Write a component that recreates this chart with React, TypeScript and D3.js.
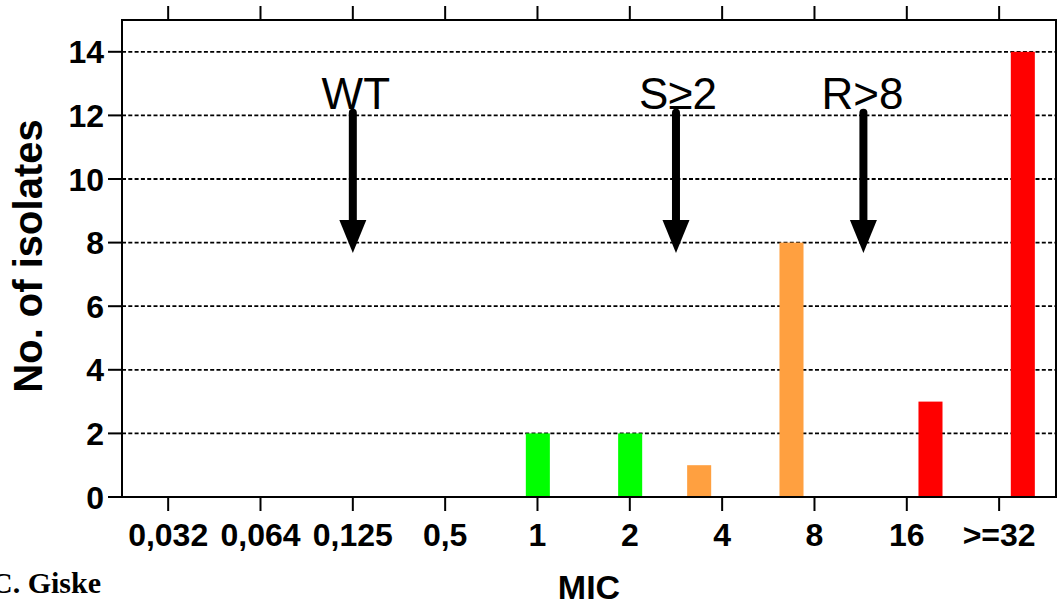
import React from "react";
import * as d3 from "d3";

const categories = ["0,032", "0,064", "0,125", "0,5", "1", "2", "4", "8", "16", ">=32"];
const seriesKeys = ["I", "S", "R"];
const seriesColors = ["#FFA040", "#00FF00", "#FF0000"];
const intermediateValues = [0, 0, 0, 0, 0, 0, 1, 8, 0, 0];
const susceptibleValues = [0, 0, 0, 0, 2, 2, 0, 0, 0, 0];
const resistantValues = [0, 0, 0, 0, 0, 0, 0, 0, 3, 14];
const yTicks = [0, 2, 4, 6, 8, 10, 12, 14];
const annotationLabels = ["WT", "S\u22652", "R>8"];
const annotationCategories = ["0,125", "2", "8"];
const annotationOffsets = [0, 0.5, 0.53];
const arrowTop = 12.08;
const arrowTip = 7.67;

const W = 1060;
const H = 606;
const left = 122;
const top = 20;
const right = 1056;
const bottom = 497;

export default function App() {
  const x = d3.scaleBand<string>().domain(categories).range([left, left + 92.33 * categories.length]).padding(0);
  const xc = (c: string) => (x(c) as number) + x.bandwidth() / 2;
  const inner = d3.scaleBand<string>().domain(seriesKeys).range([-35, 35]).padding(0);
  const y = d3.scaleLinear().domain([0, 15]).range([bottom, top]);
  const seriesValues = [intermediateValues, susceptibleValues, resistantValues];
  const font = "'Liberation Sans', Arial, sans-serif";

  const bars: JSX.Element[] = [];
  seriesValues.forEach((vals, si) => {
    vals.forEach((v, ci) => {
      if (v <= 0) return;
      const cx = xc(categories[ci]) + (inner(seriesKeys[si]) as number);
      bars.push(
        <rect
          key={`b${si}-${ci}`}
          x={cx}
          y={y(v)}
          width={inner.bandwidth() + 0.7}
          height={y(0) - y(v)}
          fill={seriesColors[si]}
        />
      );
    });
  });

  return (
    <svg width={W} height={H} style={{ position: "absolute", left: 0, top: 0 }}>
      <rect x={0} y={0} width={W} height={H} fill="#fff" />
      {yTicks.filter((t) => t > 0).map((t) => (
        <line key={`g${t}`} x1={left} x2={right} y1={y(t)} y2={y(t)} stroke="#000" strokeWidth={1.8} strokeDasharray="4,2.3" />
      ))}
      {bars}
      <rect x={left} y={top} width={right - left} height={bottom - top} fill="none" stroke="#000" strokeWidth={2} />
      {yTicks.map((t) => (
        <g key={`yt${t}`}>
          <line x1={left - 14} x2={left} y1={y(t)} y2={y(t)} stroke="#000" strokeWidth={2} />
          <text x={104} y={y(t)} dy="0.36em" textAnchor="end" fontFamily={font} fontWeight="bold" fontSize={32}>
            {t}
          </text>
        </g>
      ))}
      {categories.map((c) => (
        <g key={`xt${c}`}>
          <line x1={xc(c)} x2={xc(c)} y1={bottom} y2={bottom + 14} stroke="#000" strokeWidth={2} />
          <line x1={xc(c)} x2={xc(c)} y1={top - 14} y2={top} stroke="#000" strokeWidth={2} />
          <text x={xc(c)} y={546} textAnchor="middle" fontFamily={font} fontWeight="bold" fontSize={32}>
            {c}
          </text>
        </g>
      ))}
      {annotationLabels.map((lab, i) => {
        const ax = xc(annotationCategories[i]) + annotationOffsets[i] * x.step();
        const yTop = y(arrowTop);
        const yTip = y(arrowTip);
        const headLen = 33;
        const headHalf = 13.5;
        return (
          <g key={`a${i}`}>
            <line x1={ax} x2={ax} y1={yTop} y2={yTip - headLen + 2} stroke="#000" strokeWidth={8} strokeLinecap="round" />
            <path d={`M${ax - headHalf},${yTip - headLen} L${ax + headHalf},${yTip - headLen} L${ax},${yTip} Z`} fill="#000" />
            <text x={ax + (i === 0 ? 3 : i === 1 ? 2 : -1)} y={109} textAnchor="middle" fontFamily={font} fontSize={44}>
              {lab}
            </text>
          </g>
        );
      })}
      <text
        transform={`translate(42,256) rotate(-90)`}
        textAnchor="middle"
        fontFamily={font}
        fontWeight="bold"
        fontSize={40}
      >
        No. of isolates
      </text>
      <text x={589} y={599} textAnchor="middle" fontFamily={font} fontWeight="bold" fontSize={34}>
        MIC
      </text>
      <text x={101} y={593} textAnchor="end" fontFamily="'Liberation Serif', 'Times New Roman', serif" fontWeight="bold" fontSize={30}>
        C. Giske
      </text>
    </svg>
  );
}
